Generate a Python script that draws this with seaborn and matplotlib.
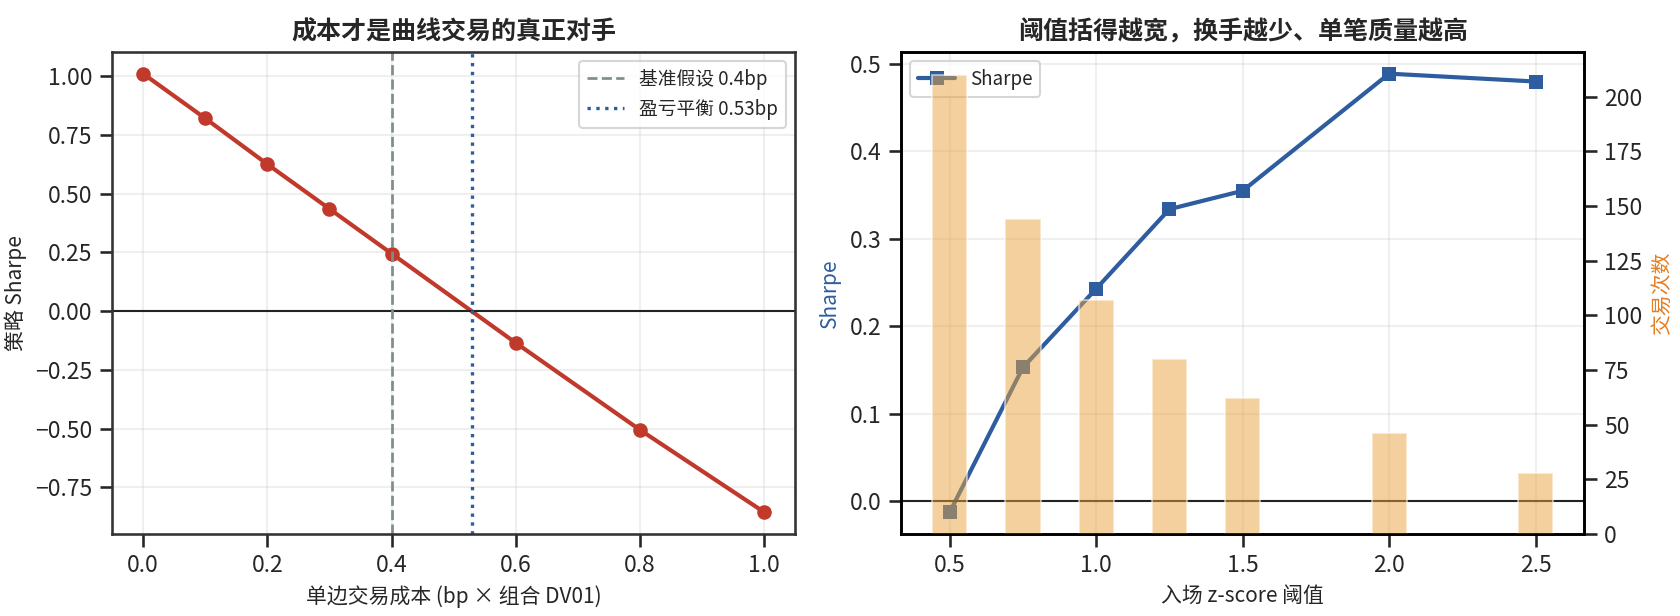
import seaborn as sns
import matplotlib.pyplot as plt
import pandas as pd

# left panel: cost sensitivity
cost_bp = [0.0, 0.1, 0.2, 0.3, 0.4, 0.6, 0.8, 1.0]
cost_sharpe = [1.01, 0.82, 0.625, 0.435, 0.245, -0.135, -0.505, -0.855]
base_cost = 0.4
breakeven_cost = 0.53

# right panel: entry threshold
z_entry = [0.5, 0.75, 1.0, 1.25, 1.5, 2.0, 2.5]
z_sharpe = [-0.0126, 0.153, 0.243, 0.334, 0.355, 0.489, 0.480]
z_trades = [210, 144, 107, 80, 62, 46, 28]

RED = "#c0392b"
BLUE = "#2e5d9f"
GREY = "#7f8c8d"
ORANGE = "#e8a33d"
ORANGE_TXT = "#e67e22"

sns.set_theme(style="ticks")
plt.rcParams['font.family'] = ['Noto Sans CJK SC', 'DejaVu Sans']
plt.rcParams['axes.unicode_minus'] = True

fig, (ax1, ax3) = plt.subplots(1, 2, figsize=(11.2, 4.1067), dpi=150)
fig.subplots_adjust(left=0.0667, right=0.943, bottom=0.133, top=0.916, wspace=0.155)

# ---- left
df_cost = pd.DataFrame({"cost": cost_bp, "sharpe": cost_sharpe})
sns.lineplot(data=df_cost, x="cost", y="sharpe", ax=ax1, color=RED, lw=2,
             marker="o", markersize=7, markeredgewidth=0)
ax1.axhline(0, color="#222222", lw=1)
ax1.axvline(base_cost, color=GREY, ls="--", lw=1.3, label=f"基准假设 {base_cost}bp")
ax1.axvline(breakeven_cost, color=BLUE, ls=":", lw=1.6, label=f"盈亏平衡 {breakeven_cost}bp")
ax1.set_xlabel("单边交易成本 (bp × 组合 DV01)", fontsize=10)
ax1.set_ylabel("策略 Sharpe", fontsize=10)
ax1.set_title("成本才是曲线交易的真正对手", fontsize=12, fontweight="bold")
ax1.grid(alpha=0.3)
ax1.legend(loc="upper right", fontsize=9)
for s in ax1.spines.values():
    s.set_color("#333333")

# ---- right
df_z = pd.DataFrame({"z": z_entry, "sharpe": z_sharpe, "trades": z_trades})
sns.lineplot(data=df_z, x="z", y="sharpe", ax=ax3, color=BLUE, lw=2,
             marker="s", markersize=7, markeredgewidth=0, label="Sharpe")
ax3.axhline(0, color="#222222", lw=1)
ax3.set_xlabel("入场 z-score 阈值", fontsize=10)
ax3.set_ylabel("Sharpe", color=BLUE, fontsize=10)
ax3.set_title("阈值括得越宽，换手越少、单笔质量越高", fontsize=12, fontweight="bold")
ax3.grid(alpha=0.3)
ax3.legend(loc="upper left", fontsize=9)

ax4 = ax3.twinx()
ax4.bar(df_z["z"], df_z["trades"], width=0.12, color=ORANGE, alpha=0.5)
ax4.set_ylabel("交易次数", color=ORANGE_TXT, fontsize=10)
ax4.grid(False)
for a in (ax3, ax4):
    for s in a.spines.values():
        s.set_color("black")

fig.savefig("out.png", dpi=150)
